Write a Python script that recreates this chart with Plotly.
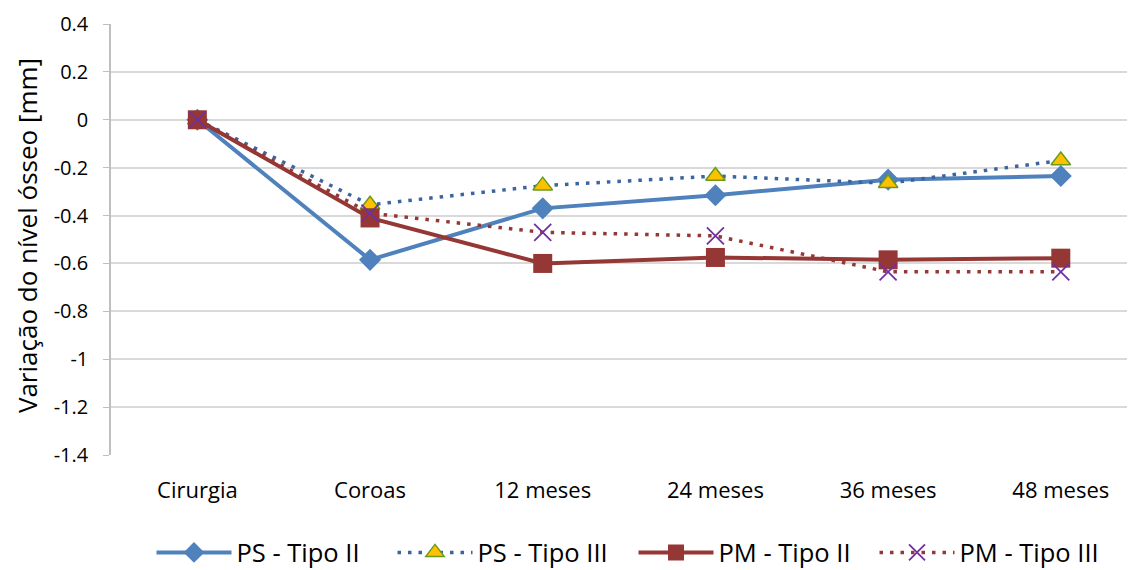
import plotly.graph_objects as go

categories = ["Cirurgia", "Coroas", "12 meses", "24 meses", "36 meses", "48 meses"]
ps_tipo2 = [0, -0.585, -0.37, -0.315, -0.25, -0.235]
ps_tipo3 = [0, -0.355, -0.275, -0.235, -0.265, -0.17]
pm_tipo2 = [0, -0.41, -0.60, -0.575, -0.585, -0.578]
pm_tipo3 = [0, -0.39, -0.47, -0.485, -0.635, -0.635]
y_ticks = [0.4, 0.2, 0, -0.2, -0.4, -0.6, -0.8, -1, -1.2, -1.4]
y_ticktext = ["0.4", "0.2", "0", "-0.2", "-0.4", "-0.6", "-0.8", "-1", "-1.2", "-1.4"]

FONT = "Open Sans, Lato, sans-serif"

fig = go.Figure()
fig.add_trace(go.Scatter(
    x=categories, y=ps_tipo2, name="PS - Tipo II", mode="lines+markers",
    line=dict(color="#4F81BD", width=4),
    marker=dict(symbol="diamond", size=17, color="#4F81BD")))
fig.add_trace(go.Scatter(
    x=categories, y=ps_tipo3, name="PS - Tipo III", mode="lines+markers",
    line=dict(color="#3B64A0", width=3.5, dash="3.5px,7px"),
    marker=dict(symbol="triangle-up", size=17, color="#FFC000",
                line=dict(color="#6A9B1A", width=1.5))))
fig.add_trace(go.Scatter(
    x=categories, y=pm_tipo2, name="PM - Tipo II", mode="lines+markers",
    line=dict(color="#953735", width=4),
    marker=dict(symbol="square", size=19, color="#953735")))
fig.add_trace(go.Scatter(
    x=categories, y=pm_tipo3, name="PM - Tipo III", mode="lines+markers",
    line=dict(color="#953735", width=3.5, dash="3.5px,7px"),
    marker=dict(symbol="x-thin", size=17, color="#7030A0",
                line=dict(color="#7030A0", width=1.8))))

fig.update_layout(
    width=1135, height=570,
    margin=dict(l=103, r=0, t=16, b=123, autoexpand=False),
    paper_bgcolor="white", plot_bgcolor="white",
    font=dict(family=FONT, size=22, color="#000000"),
    showlegend=True,
    legend=dict(orientation="h", x=0.5063, xanchor="center", y=-0.227, yanchor="middle",
                font=dict(size=25.5, family=FONT), traceorder="normal",
                itemwidth=75, entrywidth=151, entrywidthmode="pixels"),
    annotations=[dict(text="Variação do nível ósseo [mm]", textangle=-90,
                      xref="paper", yref="paper", x=-0.0815, y=0.51,
                      xanchor="center", yanchor="middle", showarrow=False,
                      font=dict(size=26, family=FONT))],
)
fig.update_xaxes(
    type="category", range=[-0.5, 5.476], showgrid=False, zeroline=False,
    showline=False, ticks="", ticklabelstandoff=20,
    tickfont=dict(size=22, family=FONT))
fig.update_yaxes(
    range=[-1.4, 0.4], tickvals=y_ticks, ticktext=y_ticktext,
    showgrid=True, gridcolor="#D9D9D9", gridwidth=1.5, zeroline=False,
    showline=True, linecolor="#BFBFBF", linewidth=1.5,
    ticks="outside", ticklen=6, tickcolor="#BFBFBF", ticklabelstandoff=11,
    tickfont=dict(size=20, family=FONT))

fig.write_html("out.html")
